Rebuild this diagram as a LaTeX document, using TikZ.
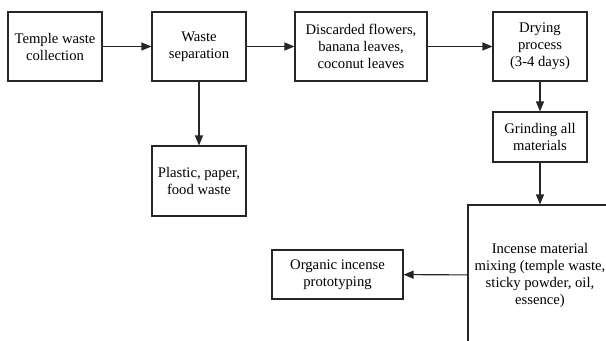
\documentclass[tikz,border=0pt]{standalone}
\usepackage{fontspec}
\setmainfont{Liberation Serif}
\usetikzlibrary{arrows.meta}
\begin{document}
\begin{tikzpicture}[x=0.75pt,y=-0.75pt,
    stepbox/.style={draw=black!85,line width=0.8pt,align=center,inner sep=2pt,
      font=\fontsize{11}{12.75}\selectfont},
    flow/.style={draw=black!85,line width=0.8pt,-{Triangle[length=7.5pt,width=6pt]}}]
            \newcommand{\boxw}{94}
            \newcommand{\boxh}{69}
            \useasboundingbox (0,0) rectangle (606,340);
            \clip (0,0) rectangle (606,340);
            \node[stepbox,minimum width=\boxw*0.75pt,minimum height=\boxh*0.75pt] (collect) at (55,46.5) {Temple waste\\collection};
            \node[stepbox,minimum width=\boxw*0.75pt,minimum height=\boxh*0.75pt] (separate) at (199,46.5) {Waste\\separation};
            \node[stepbox,minimum width=132*0.75pt,minimum height=\boxh*0.75pt] (discard) at (361,46.5) {Discarded flowers,\\banana leaves,\\coconut leaves};
            \node[stepbox,minimum width=\boxw*0.75pt,minimum height=\boxh*0.75pt] (dry) at (540,46.5) {Drying\\process\\(3-4 days)};
            \node[stepbox,minimum width=\boxw*0.75pt,minimum height=50*0.75pt] (grind) at (540,137) {Grinding all\\materials};
            \node[stepbox,minimum width=\boxw*0.75pt,minimum height=70*0.75pt] (rest) at (199,181) {Plastic, paper,\\food waste};
            \node[stepbox,minimum width=144*0.75pt,minimum height=140*0.75pt] (mix) at (540,275) {Incense material\\mixing (temple waste,\\sticky powder, oil,\\essence)};
            \node[stepbox,minimum width=131*0.75pt,minimum height=49*0.75pt] (proto) at (337.5,274.5) {Organic incense\\prototyping};
            \draw[flow] (collect) -- (separate);
            \draw[flow] (separate) -- (discard);
            \draw[flow] (discard) -- (dry);
            \draw[flow] (separate) -- (rest);
            \draw[flow] (dry) -- (grind);
            \draw[flow] (grind) -- (mix);
            \draw[flow] (mix) -- (proto);
\end{tikzpicture}
\end{document}
